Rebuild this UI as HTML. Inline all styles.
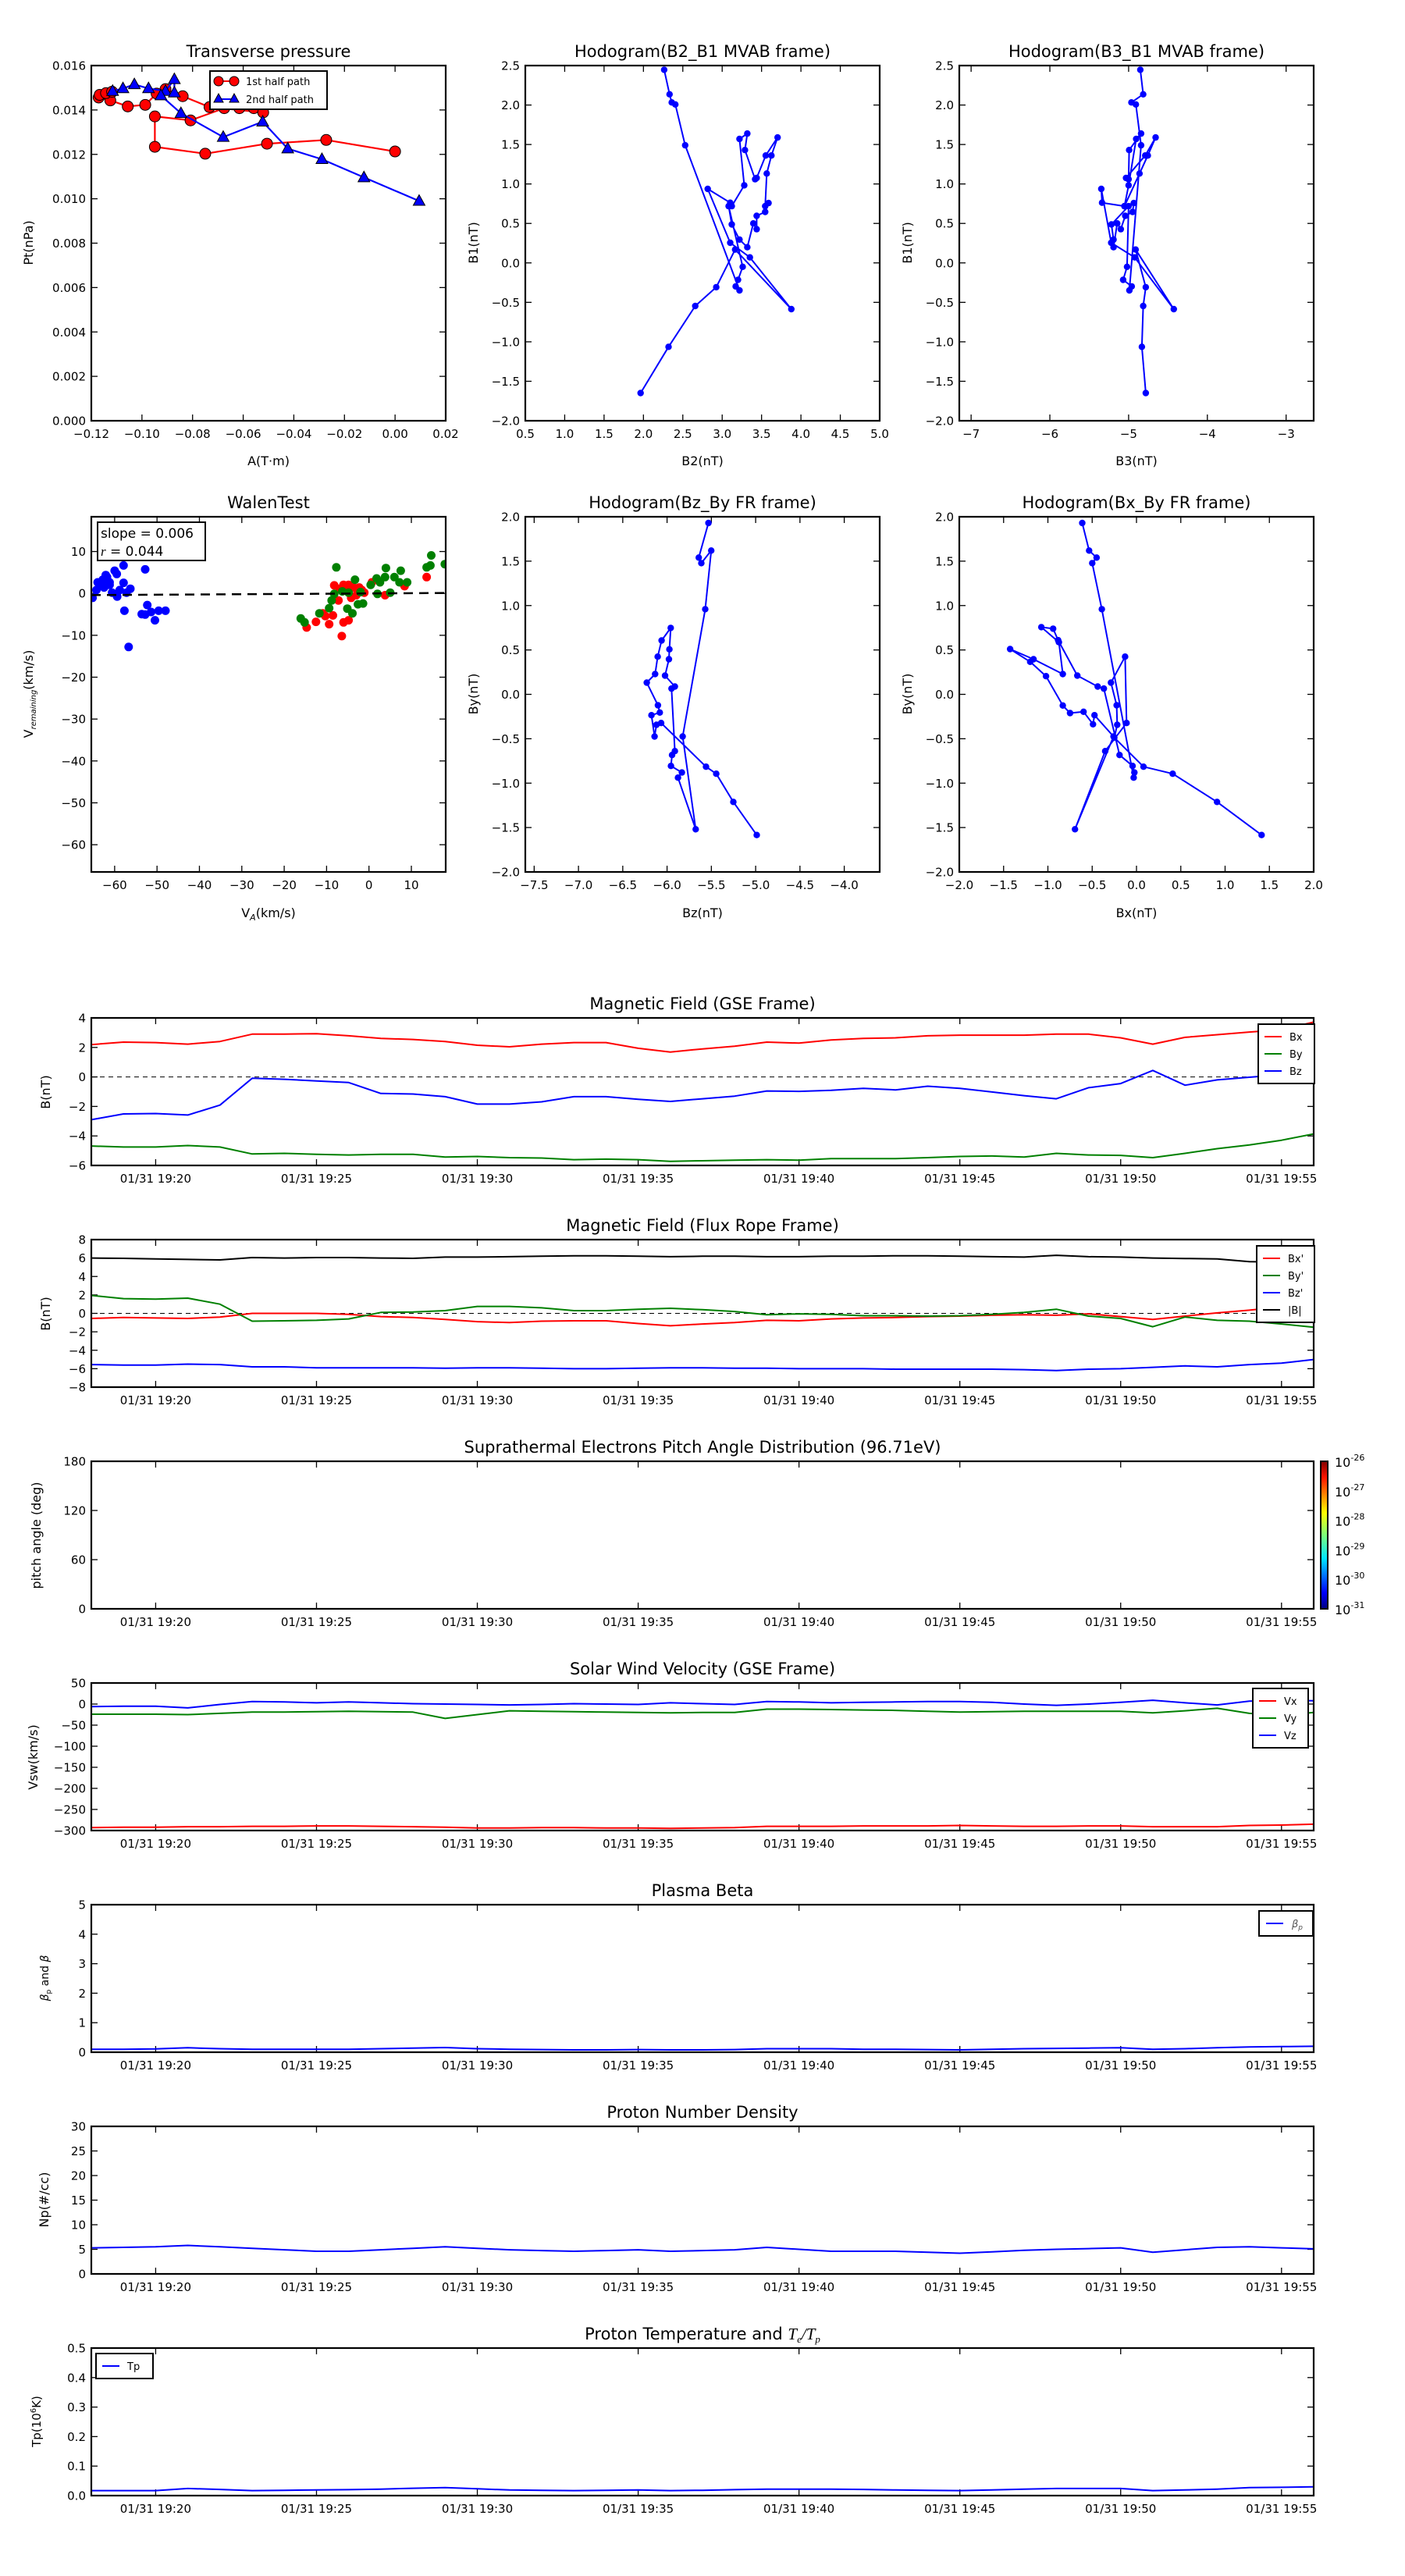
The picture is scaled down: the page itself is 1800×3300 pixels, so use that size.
<!DOCTYPE html>
<html><head><meta charset="utf-8">
<style>
html,body{margin:0;padding:0;background:#fff;}
svg{display:block;font-family:"DejaVu Sans","Liberation Sans",sans-serif;}
</style></head>
<body>
<svg id="fig" xmlns="http://www.w3.org/2000/svg" width="1800" height="3300" viewBox="0 0 1800 3300">
<rect x="0" y="0" width="1800" height="3300" fill="#fff"/>
</svg>
<script>
// ---------------- DATA ----------------
// Transverse pressure
const tpRedA = [0.0,-0.0272,-0.0506,-0.0750,-0.0949,-0.0949,-0.0808,-0.0675,-0.0615,-0.0558,-0.0521,-0.0733,-0.0839,-0.0907,-0.0942,-0.0987,-0.1056,-0.1125,-0.1171,-0.1167,-0.1142,-0.1118];
const tpRedPt = [0.01213,0.01265,0.01248,0.01203,0.01234,0.01371,0.01353,0.01408,0.01408,0.01408,0.01389,0.01413,0.01462,0.01494,0.01474,0.01423,0.01416,0.01443,0.01456,0.01468,0.01476,0.01482];
const tpBlueA = [-0.1116,-0.1075,-0.1030,-0.0974,-0.0907,-0.0872,-0.0872,-0.0925,-0.0846,-0.0679,-0.0523,-0.0424,-0.0289,-0.0123,0.0095];
const tpBluePt = [0.01485,0.01497,0.01515,0.01497,0.01485,0.01538,0.01478,0.01465,0.01385,0.01278,0.01347,0.01226,0.01178,0.01096,0.0099];
// Hodogram MVAB
const hB1 = [-1.649,-1.063,-0.546,-0.308,0.169,-0.586,0.070,0.255,0.937,0.762,0.719,0.983,1.570,1.639,1.430,1.060,1.076,1.361,1.589,1.361,1.132,0.719,0.758,0.646,0.596,0.427,0.500,0.199,0.295,0.487,0.719,-0.050,-0.215,-0.298,-0.348,1.490,2.007,2.033,2.136,2.447];
const hB2 = [1.964,2.319,2.658,2.924,3.164,3.878,3.352,3.102,2.816,3.102,3.122,3.280,3.220,3.319,3.289,3.418,3.438,3.553,3.704,3.625,3.566,3.546,3.589,3.546,3.438,3.438,3.395,3.319,3.220,3.122,3.082,3.260,3.201,3.171,3.220,2.530,2.405,2.359,2.332,2.263];
const hB3 = [-4.782,-4.832,-4.815,-4.782,-4.911,-4.426,-4.924,-5.221,-5.347,-5.337,-5.053,-5.0,-4.904,-4.842,-4.993,-5.0,-5.033,-4.789,-4.657,-4.756,-4.861,-5.053,-4.934,-4.950,-5.043,-5.099,-5.145,-5.191,-5.191,-5.218,-5.0,-5.020,-5.069,-4.960,-4.990,-4.842,-4.908,-4.964,-4.815,-4.851];
// Walen test
const wBlueVA = [-65.2,-64.3,-64.0,-63.4,-62.8,-62.1,-61.8,-62.5,-61.2,-60.6,-60.0,-59.5,-59.4,-58.8,-57.9,-57.9,-57.2,-56.3,-57.7,-56.7,-52.8,-52.3,-53.6,-52.8,-51.4,-50.5,-49.6,-48.0,-61.2,-63.1];
const wBlueVR = [-1.05,0.80,2.65,2.04,3.27,4.38,3.89,1.42,2.04,0.19,5.43,4.63,-0.74,0.80,6.67,2.53,0.19,1.11,-4.14,-12.78,5.74,-2.78,-4.94,-5.06,-4.44,-6.42,-4.14,-4.14,2.65,2.65];
const wRedVA = [-14.7,-12.5,-10.9,-9.4,-8.5,-6.4,-6.0,-4.8,-8.2,-7.2,-6.0,-4.8,-3.6,-2.3,-1.1,0.7,-4.2,-3.0,3.8,8.4,13.6,-6.9,-5.4,-1.7,-10.3];
const wRedVR = [-8.15,-6.79,-4.75,-7.35,-5.25,-10.19,-6.91,-6.42,1.91,-1.67,2.04,2.04,1.42,1.42,0.19,2.65,-1.05,-0.43,-0.43,1.73,3.89,1.11,0.8,0.8,-5.4];
const wGreenVA = [-16.1,-15.2,-11.7,-9.4,-8.8,-8.2,-7.7,-6.3,-4.8,-5.1,-3.9,-3.3,-2.6,-2.0,-1.4,0.4,2.0,1.8,2.6,3.8,4.0,5.0,6.0,7.2,7.5,9.0,13.6,14.5,14.7,17.9];
const wGreenVR = [-5.99,-6.91,-4.75,-3.52,-1.67,-0.12,6.23,0.49,0.19,-3.64,-4.75,3.27,-2.59,0.31,-2.41,2.04,-0.12,3.58,2.65,3.89,6.05,0.19,3.89,2.65,5.43,2.65,6.23,6.67,9.07,6.98];
const walenSlope = 0.006;
const walenIntercept = -0.01;
// Hodogram FR
const fzBz = [-5.533,-5.642,-5.613,-5.501,-5.569,-5.824,-5.677,-5.877,-5.833,-5.956,-5.944,-5.912,-5.950,-5.912,-6.023,-5.979,-5.974,-5.959,-6.062,-6.106,-6.135,-6.229,-6.103,-6.082,-6.176,-6.141,-6.120,-6.067,-5.560,-5.445,-5.252,-4.988];
const fzBy = [1.930,1.540,1.478,1.619,0.959,-0.475,-1.519,-0.938,-0.880,-0.806,-0.683,-0.639,0.065,0.088,0.211,0.396,0.507,0.748,0.607,0.425,0.229,0.132,-0.123,-0.205,-0.235,-0.475,-0.343,-0.323,-0.815,-0.894,-1.211,-1.584];
const fxBx = [-0.612,-0.535,-0.450,-0.500,-0.391,-0.032,-0.024,-0.044,-0.191,-0.368,-0.438,-0.668,-0.885,-0.941,-1.074,-0.876,-0.832,-1.162,-1.426,-1.200,-1.021,-0.832,-0.750,-0.597,-0.491,-0.474,-0.259,-0.694,-0.353,-0.112,-0.129,-0.288,-0.224,-0.218,-0.250,0.079,0.409,0.909,1.412];
const fxBy = [1.930,1.619,1.540,1.478,0.959,-0.938,-0.880,-0.806,-0.683,0.065,0.088,0.211,0.610,0.739,0.757,0.587,0.229,0.396,0.510,0.367,0.205,-0.126,-0.211,-0.196,-0.337,-0.235,-0.475,-1.519,-0.639,-0.323,0.425,0.132,-0.123,-0.343,-0.487,-0.815,-0.894,-1.211,-1.584];
// Time series (minutes after 19:18)
const tMin = [0,1,2,3,4,5,6,7,8,9,10,11,12,13,14,15,16,17,18,19,20,21,22,23,24,25,26,27,28,29,30,31,32,33,34,35,36,37,38];
const timeTickMin = [2,7,12,17,22,27,32,37];
const timeTickLabels = ["01/31 19:20","01/31 19:25","01/31 19:30","01/31 19:35","01/31 19:40","01/31 19:45","01/31 19:50","01/31 19:55"];
const gseBx = [2.19,2.36,2.33,2.22,2.40,2.90,2.90,2.93,2.79,2.61,2.54,2.40,2.15,2.04,2.22,2.33,2.33,1.94,1.69,1.90,2.08,2.36,2.29,2.51,2.61,2.65,2.79,2.83,2.83,2.83,2.90,2.90,2.65,2.22,2.68,2.86,3.04,3.2,3.72];
const gseBy = [-4.68,-4.75,-4.75,-4.65,-4.75,-5.22,-5.18,-5.25,-5.29,-5.25,-5.25,-5.43,-5.39,-5.47,-5.50,-5.61,-5.57,-5.61,-5.72,-5.68,-5.64,-5.61,-5.64,-5.54,-5.54,-5.54,-5.47,-5.39,-5.36,-5.43,-5.18,-5.29,-5.32,-5.47,-5.18,-4.86,-4.61,-4.29,-3.86];
const gseBz = [-2.90,-2.51,-2.48,-2.58,-1.91,-0.09,-0.16,-0.27,-0.38,-1.12,-1.16,-1.34,-1.84,-1.84,-1.69,-1.34,-1.34,-1.52,-1.66,-1.48,-1.30,-0.95,-0.98,-0.91,-0.77,-0.88,-0.63,-0.77,-1.02,-1.27,-1.48,-0.73,-0.45,0.44,-0.56,-0.20,-0.02,0.15,0.80];
const frBx = [-0.55,-0.45,-0.5,-0.55,-0.4,0,0,0,-0.1,-0.35,-0.45,-0.65,-0.9,-1.0,-0.85,-0.8,-0.8,-1.1,-1.35,-1.15,-1.0,-0.75,-0.8,-0.6,-0.5,-0.45,-0.35,-0.3,-0.2,-0.15,-0.2,-0.05,-0.35,-0.65,-0.3,0.05,0.35,0.7,1.4];
const frBy = [1.95,1.6,1.55,1.65,1.0,-0.85,-0.8,-0.75,-0.6,0.1,0.15,0.3,0.75,0.75,0.6,0.3,0.3,0.45,0.55,0.4,0.2,-0.15,-0.05,-0.1,-0.25,-0.25,-0.3,-0.25,-0.1,0.1,0.45,-0.3,-0.55,-1.45,-0.4,-0.75,-0.85,-1.15,-1.5];
const frBz = [-5.55,-5.6,-5.6,-5.5,-5.55,-5.8,-5.8,-5.9,-5.9,-5.9,-5.9,-5.95,-5.9,-5.9,-5.95,-6.0,-6.0,-5.95,-5.9,-5.9,-5.95,-5.95,-6.0,-6.0,-6.0,-6.05,-6.05,-6.05,-6.05,-6.1,-6.2,-6.05,-6.0,-5.85,-5.7,-5.8,-5.55,-5.4,-5.0];
const frBt = [6.0,5.97,5.9,5.85,5.8,6.05,6.0,6.05,6.05,6.0,5.97,6.1,6.1,6.15,6.2,6.25,6.25,6.2,6.15,6.2,6.2,6.15,6.15,6.2,6.2,6.25,6.25,6.2,6.15,6.1,6.3,6.15,6.1,6.0,5.95,5.9,5.6,5.55,5.5];
const vx = [-293,-292,-292,-291,-291,-290,-290,-289,-289,-290,-291,-292,-294,-294,-293,-293,-294,-294,-295,-294,-293,-290,-290,-290,-289,-289,-289,-288,-289,-290,-290,-289,-289,-291,-291,-291,-288,-287,-285];
const vy = [-24,-24,-24,-25,-22,-19,-19,-18,-17,-18,-19,-34,-25,-16,-17,-18,-19,-20,-21,-20,-20,-12,-12,-13,-14,-15,-17,-19,-18,-17,-17,-17,-17,-21,-16,-10,-22,-27,-20];
const vz = [-6,-5,-5,-9,-1,6,5,3,5,3,1,0,-1,-2,-1,1,0,-1,3,1,-1,6,5,3,4,5,6,6,4,0,-3,0,4,9,3,-2,7,9,8];
const betaP = [0.1,0.1,0.11,0.15,0.12,0.1,0.1,0.1,0.1,0.12,0.14,0.16,0.12,0.1,0.09,0.08,0.08,0.09,0.08,0.08,0.09,0.12,0.12,0.12,0.1,0.1,0.09,0.08,0.1,0.12,0.13,0.14,0.15,0.1,0.12,0.15,0.18,0.19,0.2];
const np = [5.3,5.4,5.5,5.8,5.5,5.2,4.9,4.6,4.6,4.9,5.2,5.5,5.2,4.9,4.75,4.6,4.75,4.9,4.6,4.75,4.9,5.4,5.0,4.6,4.6,4.6,4.4,4.2,4.5,4.8,5.0,5.15,5.3,4.4,4.9,5.4,5.5,5.3,5.1];
const tp = [0.017,0.017,0.017,0.024,0.021,0.017,0.018,0.019,0.020,0.022,0.025,0.027,0.023,0.019,0.018,0.017,0.018,0.019,0.017,0.018,0.020,0.022,0.022,0.022,0.021,0.019,0.018,0.017,0.019,0.022,0.024,0.024,0.024,0.017,0.019,0.022,0.027,0.028,0.030];
const cbarLabels = ["-26","-27","-28","-29","-30","-31"];

// ---------------- DRAWING ----------------
const NS = "http://www.w3.org/2000/svg";
const svg = document.getElementById('fig');
function mk(tag, attrs, name, parent) {
  const e = document.createElementNS(NS, tag);
  for (const k in attrs) e.setAttribute(k, attrs[k]);
  
  
  (parent || svg).appendChild(e);
  return e;
}
function txt(x, y, s, size, anchor, name, parent, extra) {
  const a = {x: x, y: y, 'font-size': size, 'text-anchor': anchor || 'middle', fill: '#000'};
  if (extra) for (const k in extra) a[k] = extra[k];
  const t = mk('text', a, name, parent);
  t.textContent = s;
  return t;
}
function fmt(v, d) { const s = Math.abs(v).toFixed(d); return (v < -1e-12 ? '\u2212' : '') + s; }

function axes(o) {
  const g = mk('g', {}, o.name);
  const sx = v => o.x0 + (v - o.xlim[0]) / (o.xlim[1] - o.xlim[0]) * o.w;
  const sy = v => o.y0 + o.h - (v - o.ylim[0]) / (o.ylim[1] - o.ylim[0]) * o.h;
  const tl = 8;
  o.xticks.forEach((v, i) => {
    const x = sx(v);
    mk('line', {x1: x, y1: o.y0 + o.h, x2: x, y2: o.y0 + o.h - tl, stroke: '#000', 'stroke-width': 1.3}, 'x-tick', g);
    mk('line', {x1: x, y1: o.y0, x2: x, y2: o.y0 + tl, stroke: '#000', 'stroke-width': 1.3}, 'x-tick-top', g);
    txt(x, o.y0 + o.h + 22, o.xlabels[i], 15, 'middle', 'x-tick-label', g);
  });
  o.yticks.forEach((v, i) => {
    const y = sy(v);
    mk('line', {x1: o.x0, y1: y, x2: o.x0 + tl, y2: y, stroke: '#000', 'stroke-width': 1.3}, 'y-tick', g);
    mk('line', {x1: o.x0 + o.w, y1: y, x2: o.x0 + o.w - tl, y2: y, stroke: '#000', 'stroke-width': 1.3}, 'y-tick-right', g);
    txt(o.x0 - 7, y + 5.5, o.ylabels[i], 15, 'end', 'y-tick-label', g);
  });
  const clipId = 'c' + o.name;
  const cp = mk('clipPath', {id: clipId}, 'clip', g);
  mk('rect', {x: o.x0, y: o.y0, width: o.w, height: o.h}, 'clip-rect', cp);
  const plot = mk('g', {'clip-path': 'url(#' + clipId + ')'}, 'plot-area', g);
  if (o.title) txt(o.x0 + o.w / 2, o.y0 - 11, o.title, 21, 'middle', 'chart-title', g);
  return {g: g, plot: plot, sx: sx, sy: sy, o: o};
}
function frame(a) {
  const o = a.o;
  mk('rect', {x: o.x0, y: o.y0, width: o.w, height: o.h, fill: 'none', stroke: '#000', 'stroke-width': 2.2}, 'axes-frame', a.g);
}
function poly(a, xs, ys, color, name, w) {
  const pts = xs.map((v, i) => a.sx(v).toFixed(1) + ',' + a.sy(ys[i]).toFixed(1)).join(' ');
  return mk('polyline', {points: pts, fill: 'none', stroke: color, 'stroke-width': w || 2.2, 'stroke-linejoin': 'round'}, name, a.plot);
}
function dots(a, xs, ys, color, r, name) {
  xs.forEach((v, i) => {
    const c = mk('circle', {cx: a.sx(v).toFixed(1), cy: a.sy(ys[i]).toFixed(1), r: r, fill: color}, name, a.plot);
  });
}
function range(a, b, s) { const r = []; for (let v = a; v <= b + 1e-9; v += s) r.push(+v.toFixed(6)); return r; }
function ylab(x, y, s, name, size) {
  return txt(x, y, s, size || 16, 'middle', name, svg, {transform: 'rotate(-90 ' + x + ' ' + y + ')'});
}

// ---- Transverse pressure ----
(function () {
  const xt = range(-0.12, 0.02, 0.02), yt = range(0, 0.016, 0.002);
  const a = axes({name: 'transverse-pressure-chart', x0: 117, y0: 84, w: 454, h: 455, xlim: [-0.12, 0.02], ylim: [0, 0.016],
    xticks: xt, yticks: yt, xlabels: xt.map(v => fmt(v, 2)), ylabels: yt.map(v => fmt(v, 3)), title: 'Transverse pressure'});
  poly(a, tpRedA, tpRedPt, '#ff0000', 'first-half-path-line');
  tpRedA.forEach((v, i) => {
    const c = mk('circle', {cx: a.sx(v), cy: a.sy(tpRedPt[i]), r: 7, fill: '#ff0000', stroke: '#000', 'stroke-width': 1}, 'first-half-marker', a.plot);
  });
  poly(a, tpBlueA, tpBluePt, '#0000ff', 'second-half-path-line');
  tpBlueA.forEach((v, i) => {
    const x = a.sx(v), y = a.sy(tpBluePt[i]);
    const p = mk('polygon', {points: x + ',' + (y - 8) + ' ' + (x - 7.5) + ',' + (y + 5.5) + ' ' + (x + 7.5) + ',' + (y + 5.5), fill: '#0000ff', stroke: '#000', 'stroke-width': 1}, 'second-half-marker', a.plot);
  });
  frame(a);
  const lg = mk('g', {}, 'legend');
  mk('rect', {x: 269, y: 91, width: 150, height: 49, fill: '#fff', stroke: '#000', 'stroke-width': 2}, 'legend-box', lg);
  mk('line', {x1: 280, y1: 104, x2: 300, y2: 104, stroke: '#ff0000', 'stroke-width': 2}, 'legend-line-red', lg);
  mk('circle', {cx: 280, cy: 104, r: 6, fill: '#ff0000', stroke: '#000', 'stroke-width': 1}, 'legend-marker-red', lg);
  mk('circle', {cx: 300, cy: 104, r: 6, fill: '#ff0000', stroke: '#000', 'stroke-width': 1}, 'legend-marker-red', lg);
  txt(315, 109, '1st half path', 13, 'start', 'legend-label-1st', lg);
  mk('line', {x1: 280, y1: 127, x2: 300, y2: 127, stroke: '#0000ff', 'stroke-width': 2}, 'legend-line-blue', lg);
  mk('polygon', {points: '280,120 274,131 286,131', fill: '#0000ff', stroke: '#000', 'stroke-width': 1}, 'legend-marker-blue', lg);
  mk('polygon', {points: '300,120 294,131 306,131', fill: '#0000ff', stroke: '#000', 'stroke-width': 1}, 'legend-marker-blue', lg);
  txt(315, 132, '2nd half path', 13, 'start', 'legend-label-2nd', lg);
  txt(344, 596, 'A(T\u00b7m)', 16, 'middle', 'x-axis-title');
  ylab(42, 311, 'Pt(nPa)', 'y-axis-title');
})();

// ---- Hodogram B2_B1 ----
(function () {
  const xt = range(0.5, 5.0, 0.5), yt = range(-2, 2.5, 0.5);
  const a = axes({name: 'hodogram-b2-b1-chart', x0: 673, y0: 84, w: 454, h: 455, xlim: [0.5, 5.0], ylim: [-2, 2.5],
    xticks: xt, yticks: yt, xlabels: xt.map(v => fmt(v, 1)), ylabels: yt.map(v => fmt(v, 1)), title: 'Hodogram(B2_B1 MVAB frame)'});
  poly(a, hB2, hB1, '#0000ff', 'hodogram-line', 2);
  dots(a, hB2, hB1, '#0000ff', 4.2, 'hodogram-point');
  frame(a);
  txt(900, 596, 'B2(nT)', 16, 'middle', 'x-axis-title');
  ylab(612, 311, 'B1(nT)', 'y-axis-title');
})();

// ---- Hodogram B3_B1 ----
(function () {
  const xt = range(-7, -3, 1), yt = range(-2, 2.5, 0.5);
  const a = axes({name: 'hodogram-b3-b1-chart', x0: 1229, y0: 84, w: 454, h: 455, xlim: [-7.15, -2.65], ylim: [-2, 2.5],
    xticks: xt, yticks: yt, xlabels: xt.map(v => fmt(v, 0)), ylabels: yt.map(v => fmt(v, 1)), title: 'Hodogram(B3_B1 MVAB frame)'});
  poly(a, hB3, hB1, '#0000ff', 'hodogram-line', 2);
  dots(a, hB3, hB1, '#0000ff', 4.2, 'hodogram-point');
  frame(a);
  txt(1456, 596, 'B3(nT)', 16, 'middle', 'x-axis-title');
  ylab(1168, 311, 'B1(nT)', 'y-axis-title');
})();

// ---- Walen test ----
(function () {
  const xt = range(-60, 10, 10), yt = range(-60, 10, 10);
  const a = axes({name: 'walen-test-chart', x0: 117, y0: 662, w: 454, h: 455, xlim: [-65.5, 18.1], ylim: [-66.5, 18.3],
    xticks: xt, yticks: yt, xlabels: xt.map(v => fmt(v, 0)), ylabels: yt.map(v => fmt(v, 0)), title: 'WalenTest'});
  dots(a, wBlueVA, wBlueVR, '#0000ff', 5.5, 'walen-point-blue');
  dots(a, wRedVA, wRedVR, '#ff0000', 5.5, 'walen-point-red');
  dots(a, wGreenVA, wGreenVR, '#008000', 5.5, 'walen-point-green');
  const x1 = -65.5, x2 = 18.1;
  mk('line', {x1: a.sx(x1), y1: a.sy(walenSlope * x1 + walenIntercept), x2: a.sx(x2), y2: a.sy(walenSlope * x2 + walenIntercept), stroke: '#000', 'stroke-width': 2.5, 'stroke-dasharray': '12,8'}, 'fit-line', a.plot);
  frame(a);
  mk('rect', {x: 125, y: 669, width: 138, height: 49, fill: '#fff', stroke: '#000', 'stroke-width': 2}, 'stats-box');
  txt(129, 689, 'slope = 0.006', 17, 'start', 'slope-text');
  const r = txt(129, 712, '', 17, 'start', 'r-text');
  const ri = mk('tspan', {'font-style': 'italic', 'font-family': '"Liberation Serif",serif'}, 'r-symbol', r); ri.textContent = 'r';
  const rr = mk('tspan', {}, 'r-value', r); rr.textContent = ' = 0.044';
  const xl = txt(344, 1175, 'V', 16, 'middle', 'x-axis-title');
  const xs = mk('tspan', {'font-size': 11, dy: 4, 'font-style': 'italic'}, 'x-axis-sub', xl); xs.textContent = 'A';
  const xr = mk('tspan', {dy: -4}, 'x-axis-unit', xl); xr.textContent = '(km/s)';
  const yl = ylab(42, 889, 'V', 'y-axis-title');
  const ys = mk('tspan', {'font-size': 10, dy: 4, 'font-style': 'italic'}, 'y-axis-sub', yl); ys.textContent = 'remaining';
  const yr = mk('tspan', {dy: -4}, 'y-axis-unit', yl); yr.textContent = '(km/s)';
})();

// ---- Hodogram Bz_By FR ----
(function () {
  const xt = range(-7.5, -4.0, 0.5), yt = range(-2, 2, 0.5);
  const a = axes({name: 'hodogram-bz-by-chart', x0: 673, y0: 662, w: 454, h: 455, xlim: [-7.6, -3.6], ylim: [-2, 2],
    xticks: xt, yticks: yt, xlabels: xt.map(v => fmt(v, 1)), ylabels: yt.map(v => fmt(v, 1)), title: 'Hodogram(Bz_By FR frame)'});
  poly(a, fzBz, fzBy, '#0000ff', 'hodogram-line', 2);
  dots(a, fzBz, fzBy, '#0000ff', 4.2, 'hodogram-point');
  frame(a);
  txt(900, 1175, 'Bz(nT)', 16, 'middle', 'x-axis-title');
  ylab(612, 889, 'By(nT)', 'y-axis-title');
})();

// ---- Hodogram Bx_By FR ----
(function () {
  const xt = range(-2, 2, 0.5), yt = range(-2, 2, 0.5);
  const a = axes({name: 'hodogram-bx-by-chart', x0: 1229, y0: 662, w: 454, h: 455, xlim: [-2, 2], ylim: [-2, 2],
    xticks: xt, yticks: yt, xlabels: xt.map(v => fmt(v, 1)), ylabels: yt.map(v => fmt(v, 1)), title: 'Hodogram(Bx_By FR frame)'});
  poly(a, fxBx, fxBy, '#0000ff', 'hodogram-line', 2);
  dots(a, fxBx, fxBy, '#0000ff', 4.2, 'hodogram-point');
  frame(a);
  txt(1456, 1175, 'Bx(nT)', 16, 'middle', 'x-axis-title');
  ylab(1168, 889, 'By(nT)', 'y-axis-title');
})();

// ---- Time series panels ----
function tsAxes(name, y0, ylim, yt, ylabels, title) {
  return axes({name: name, x0: 117, y0: y0, w: 1566, h: 189, xlim: [0, 38], ylim: ylim,
    xticks: timeTickMin, yticks: yt, xlabels: timeTickLabels, ylabels: ylabels, title: title});
}
function legendBox(x, y, w, entries, name, size) {
  const g = mk('g', {}, name);
  const h = entries.length * 22 + 10;
  mk('rect', {x: x, y: y, width: w, height: h, fill: '#fff', stroke: '#000', 'stroke-width': 2}, 'legend-box', g);
  entries.forEach((e, i) => {
    const yy = y + 16 + i * 22;
    mk('line', {x1: x + 8, y1: yy, x2: x + 30, y2: yy, stroke: e[1], 'stroke-width': 2}, 'legend-line', g);
    txt(x + 40, yy + 5, e[0], size || 13, 'start', 'legend-label', g);
  });
  return g;
}
function zeroLine(a) {
  mk('line', {x1: a.o.x0, y1: a.sy(0), x2: a.o.x0 + a.o.w, y2: a.sy(0), stroke: '#000', 'stroke-width': 1, 'stroke-dasharray': '6,5'}, 'zero-line', a.plot);
}

(function () {
  const yt = range(-6, 4, 2);
  const a = tsAxes('gse-field-chart', 1304, [-6, 4], yt, yt.map(v => fmt(v, 0)), 'Magnetic Field (GSE Frame)');
  zeroLine(a);
  poly(a, tMin, gseBx, '#ff0000', 'bx-line', 2);
  poly(a, tMin, gseBy, '#008000', 'by-line', 2);
  poly(a, tMin, gseBz, '#0000ff', 'bz-line', 2);
  frame(a);
  legendBox(1612, 1312, 72, [['Bx', '#ff0000'], ['By', '#008000'], ['Bz', '#0000ff']], 'gse-legend');
  ylab(64, 1399, 'B(nT)', 'y-axis-title');
})();

(function () {
  const yt = range(-8, 8, 2);
  const a = tsAxes('flux-rope-field-chart', 1588, [-8, 8], yt, yt.map(v => fmt(v, 0)), 'Magnetic Field (Flux Rope Frame)');
  zeroLine(a);
  poly(a, tMin, frBx, '#ff0000', 'bx-prime-line', 2);
  poly(a, tMin, frBy, '#008000', 'by-prime-line', 2);
  poly(a, tMin, frBz, '#0000ff', 'bz-prime-line', 2);
  poly(a, tMin, frBt, '#000000', 'b-magnitude-line', 2);
  frame(a);
  legendBox(1610, 1596, 74, [["Bx'", '#ff0000'], ["By'", '#008000'], ["Bz'", '#0000ff'], ['|B|', '#000000']], 'fr-legend');
  ylab(64, 1683, 'B(nT)', 'y-axis-title');
})();

(function () {
  const yt = [0, 60, 120, 180];
  const a = tsAxes('pitch-angle-chart', 1872, [0, 180], yt, yt.map(v => String(v)), 'Suprathermal Electrons Pitch Angle Distribution (96.71eV)');
  frame(a);
  ylab(52, 1967, 'pitch angle (deg)', 'y-axis-title');
  const defs = mk('defs', {}, 'defs');
  const lg = mk('linearGradient', {id: 'jet', x1: 0, y1: 1, x2: 0, y2: 0}, 'jet-gradient', defs);
  [['0', '#00007f'], ['0.11', '#0000ff'], ['0.34', '#00e5ff'], ['0.5', '#7dff7a'], ['0.65', '#ffff00'], ['0.89', '#ff1400'], ['1', '#7f0000']].forEach(s => {
    mk('stop', {offset: s[0], 'stop-color': s[1]}, 'gradient-stop', lg);
  });
  const cb = mk('g', {}, 'colorbar');
  mk('rect', {x: 1692, y: 1872, width: 9, height: 189, fill: 'url(#jet)', stroke: '#000', 'stroke-width': 2}, 'colorbar-bar', cb);
  cbarLabels.forEach((s, i) => {
    const y = 1872 + i * 189 / 5;
    const t = txt(1710, y + 7, '10', 16, 'start', 'colorbar-label', cb);
    const sp = mk('tspan', {'font-size': 11, dy: -8}, 'colorbar-exponent', t); sp.textContent = s;
  });
})();

(function () {
  const yt = range(-300, 50, 50);
  const a = tsAxes('velocity-chart', 2156, [-300, 50], yt, yt.map(v => fmt(v, 0)), 'Solar Wind Velocity (GSE Frame)');
  poly(a, tMin, vx, '#ff0000', 'vx-line', 2);
  poly(a, tMin, vy, '#008000', 'vy-line', 2);
  poly(a, tMin, vz, '#0000ff', 'vz-line', 2);
  frame(a);
  legendBox(1605, 2163, 71, [['Vx', '#ff0000'], ['Vy', '#008000'], ['Vz', '#0000ff']], 'velocity-legend');
  ylab(48, 2251, 'Vsw(km/s)', 'y-axis-title');
})();

(function () {
  const yt = range(0, 5, 1);
  const a = tsAxes('plasma-beta-chart', 2440, [0, 5], yt, yt.map(v => String(v)), 'Plasma Beta');
  poly(a, tMin, betaP, '#0000ff', 'beta-p-line', 2);
  frame(a);
  const g = mk('g', {}, 'beta-legend');
  mk('rect', {x: 1613, y: 2448, width: 69, height: 32, fill: '#fff', stroke: '#000', 'stroke-width': 2}, 'legend-box', g);
  mk('line', {x1: 1622, y1: 2464, x2: 1644, y2: 2464, stroke: '#0000ff', 'stroke-width': 2}, 'legend-line', g);
  const t = txt(1655, 2469, '\u03b2', 13, 'start', 'legend-label', g, {'font-style': 'italic', fill: '#555'});
  const s = mk('tspan', {'font-size': 9, dy: 3}, 'legend-sub', t); s.textContent = 'p';
  const yl = ylab(62, 2534, '', 'y-axis-title', 14);
  const b1 = mk('tspan', {'font-style': 'italic'}, 'beta-p', yl); b1.textContent = '\u03b2';
  const b2 = mk('tspan', {'font-size': 9, dy: 3}, 'beta-sub', yl); b2.textContent = 'p';
  const b3 = mk('tspan', {dy: -3}, 'and-text', yl); b3.textContent = ' and ';
  const b4 = mk('tspan', {'font-style': 'italic'}, 'beta', yl); b4.textContent = '\u03b2';
})();

(function () {
  const yt = range(0, 30, 5);
  const a = tsAxes('proton-density-chart', 2724, [0, 30], yt, yt.map(v => String(v)), 'Proton Number Density');
  poly(a, tMin, np, '#0000ff', 'density-line', 2);
  frame(a);
  ylab(62, 2818, 'Np(#/cc)', 'y-axis-title');
})();

(function () {
  const yt = range(0, 0.5, 0.1);
  const a = tsAxes('proton-temperature-chart', 3008, [0, 0.5], yt, yt.map(v => v.toFixed(1)), '');
  poly(a, tMin, tp, '#0000ff', 'tp-line', 2);
  frame(a);
  const tt = txt(900, 2997, 'Proton Temperature and ', 21, 'middle', 'chart-title');
  const t1 = mk('tspan', {'font-style': 'italic', 'font-family': '"Liberation Serif",serif'}, 'te-symbol', tt); t1.textContent = 'T';
  const t2 = mk('tspan', {'font-size': 13, dy: 4, 'font-style': 'italic', 'font-family': '"Liberation Serif",serif'}, 'te-sub', tt); t2.textContent = 'e';
  const t3 = mk('tspan', {dy: -4, 'font-style': 'italic', 'font-family': '"Liberation Serif",serif'}, 'tp-symbol', tt); t3.textContent = '/T';
  const t4 = mk('tspan', {'font-size': 13, dy: 4, 'font-style': 'italic', 'font-family': '"Liberation Serif",serif'}, 'tp-sub', tt); t4.textContent = 'p';
  legendBox(123, 3015, 73, [['Tp', '#0000ff']], 'temperature-legend');
  const yl = ylab(52, 3102, 'Tp(10', 'y-axis-title', 15);
  const s = mk('tspan', {'font-size': 10, dy: -6}, 'unit-exponent', yl); s.textContent = '6';
  const r = mk('tspan', {dy: 6}, 'unit-rest', yl); r.textContent = 'K)';
})();
</script>
</body></html>
